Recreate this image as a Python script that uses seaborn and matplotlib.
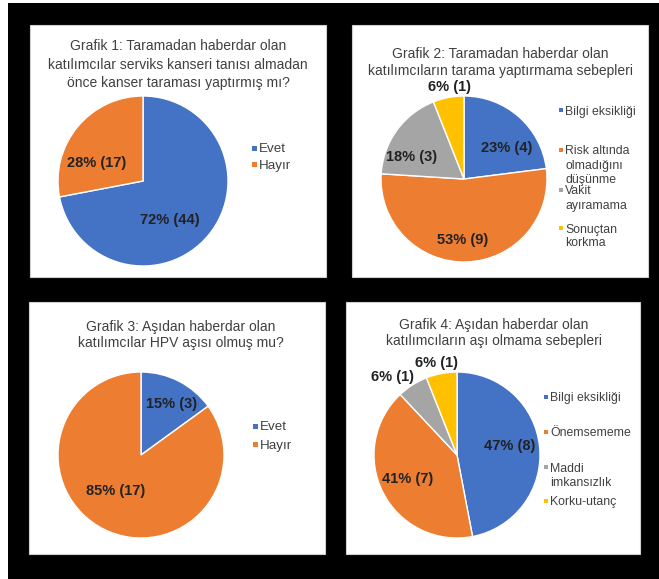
import matplotlib
matplotlib.use("Agg")
import matplotlib.pyplot as plt
from matplotlib.patches import Rectangle
import seaborn as sns

sns.set_style("white")
plt.rcParams["font.family"] = ["Liberation Sans", "DejaVu Sans"]

# ---- data -------------------------------------------------------------
titles = [
    "Grafik 1: Taramadan haberdar olan\nkatılımcılar serviks kanseri tanısı almadan\nönce kanser taraması yaptırmış mı?",
    "Grafik 2: Taramadan haberdar olan\nkatılımcıların tarama yaptırmama sebepleri",
    "Grafik 3: Aşıdan haberdar olan\nkatılımcılar HPV aşısı olmuş mu?",
    "Grafik 4: Aşıdan haberdar olan\nkatılımcıların aşı olmama sebepleri",
]

g1_categories = ["Evet", "Hayır"]
g1_percent = [72, 28]
g1_counts = [44, 17]

g2_categories = ["Bilgi eksikliği", "Risk altında\nolmadığını\ndüşünme", "Vakit\nayıramama", "Sonuçtan\nkorkma"]
g2_percent = [23, 53, 18, 6]
g2_counts = [4, 9, 3, 1]

g3_categories = ["Evet", "Hayır"]
g3_percent = [15, 85]
g3_counts = [3, 17]

g4_categories = ["Bilgi eksikliği", "Önemsememe", "Maddi\nimkansızlık", "Korku-utanç"]
g4_percent = [47, 41, 6, 6]
g4_counts = [8, 7, 1, 1]

palette = sns.color_palette(["#4472C4", "#ED7D31", "#A5A5A5", "#FFC000"])

# ---- layout (pixels) --------------------------------------------------
W, H = 659, 579
fig = plt.figure(figsize=(W / 100, H / 100), dpi=100)
fig.patch.set_facecolor("white")

bg = fig.add_axes([0, 0, 1, 1])
bg.set_xlim(0, W)
bg.set_ylim(H, 0)
bg.axis("off")
bg.add_patch(Rectangle((8, 3), W - 8, H - 3, facecolor="black", edgecolor="none"))

panels = [(30, 25, 296, 252), (352, 25, 296, 252), (29, 302, 296, 252), (346, 302, 294, 252)]
for (x, y, w, h) in panels:
    bg.add_patch(Rectangle((x, y), w, h, facecolor="white", edgecolor="#d0d0d0", lw=0.8))

# title: first-line centre y and line step, in pixels
title_pos = [(178, 45, 18.5), (500, 53, 17), (181, 326, 16), (494, 324, 15.5)]
for t, (x, y, step) in zip(titles, title_pos):
    for k, line in enumerate(t.split("\n")):
        bg.text(x, y + k * step, line, ha="center", va="center_baseline",
                fontsize=10, color="#404040")


def pie_axes(cx, cy, r):
    ax = fig.add_axes([(cx - r) / W, (H - cy - r) / H, 2 * r / W, 2 * r / H])
    ax.set_xlim(-1, 1)
    ax.set_ylim(-1, 1)
    ax.axis("off")
    return ax


def draw_pie(ax, values, counts, label_xy):
    ax.pie(values, colors=palette[:len(values)], startangle=90, counterclock=False,
           radius=1, wedgeprops=dict(edgecolor="white", linewidth=1))
    ax.set_xlim(-1, 1)
    ax.set_ylim(-1, 1)
    for v, c, (lx, ly) in zip(values, counts, label_xy):
        ax.text(lx, ly, f"{v}% ({c})", ha="center", va="center", fontsize=10.5,
                fontweight="bold", color="#222222", clip_on=False)


def draw_legend(x_marker, entries_y, labels, size, box, step):
    for i, (lab, y) in enumerate(zip(labels, entries_y)):
        bg.add_patch(Rectangle((x_marker - box / 2, y - box / 2), box, box,
                               facecolor=palette[i], edgecolor="none"))
        for k, line in enumerate(lab.split("\n")):
            bg.text(x_marker + box / 2 + 2, y + k * step, line, ha="left",
                    va="center_baseline", fontsize=size, color="#404040")


# Grafik 1
ax1 = pie_axes(143, 181, 85)
draw_pie(ax1, g1_percent, g1_counts, [(0.32, -0.46), (-0.54, 0.21)])
draw_legend(254, [148, 164], g1_categories, 9.6, 5, 15)

# Grafik 2
ax2 = pie_axes(464, 179, 83)
draw_pie(ax2, g2_percent, g2_counts, [(0.51, 0.37), (-0.02, -0.73), (-0.63, 0.27), (-0.18, 1.11)])
draw_legend(561, [110, 150, 190, 228], g2_categories, 8.8, 4, 14)

# Grafik 3
ax3 = pie_axes(141, 455, 83)
draw_pie(ax3, g3_percent, g3_counts, [(0.37, 0.61), (-0.31, -0.43)])
draw_legend(255, [426, 444], g3_categories, 9.6, 5, 15)

# Grafik 4
ax4 = pie_axes(457, 455, 83)
draw_pie(ax4, g4_percent, g4_counts, [(0.63, 0.11), (-0.60, -0.29), (-0.78, 0.94), (-0.25, 1.11)])
draw_legend(546, [397, 432, 467, 501], g4_categories, 8.8, 4, 14)

fig.savefig("out.png", dpi=100, facecolor=fig.get_facecolor())
